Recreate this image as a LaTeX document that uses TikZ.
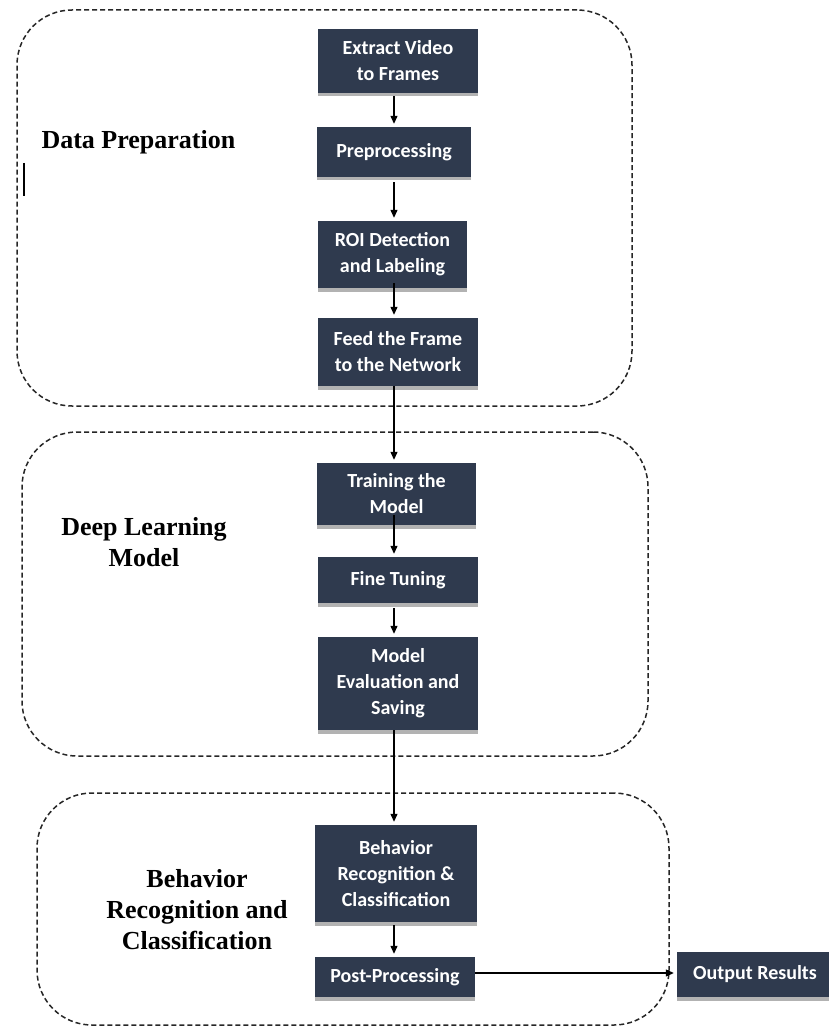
\documentclass[tikz,border=0pt]{standalone}
\usepackage{fontspec}
\setmainfont{Liberation Serif}
\newfontfamily\boxfont{Carlito}
\usetikzlibrary{arrows.meta,shadows,calc}
\definecolor{navy}{RGB}{47,58,78}
\begin{document}
\begin{tikzpicture}[x=1pt,y=-1pt,
  stepbox/.style={fill=navy, text=white, inner sep=2pt, align=center,
    font=\boxfont\bfseries\fontsize{20}{26}\selectfont,
    drop shadow={shadow xshift=0pt, shadow yshift=-3.5pt, fill=black!30, opacity=1}},
  group/.style={draw=black!85, dash pattern=on 5pt off 3pt, line width=1.5pt,
    rounded corners=55pt, inner sep=0pt},
  arr/.style={line width=1.2pt, -{Triangle[length=8pt,width=7pt]}, shorten >=3pt},
  grouplabel/.style={font=\bfseries\fontsize{26}{31}\selectfont, align=center}]
\useasboundingbox (0,0) rectangle (829,1027);
\clip (0,0) rectangle (829,1027);

% groups
\node[group, minimum width=615pt, minimum height=396pt] (g1) at (324.5,208) {};
\node[group, minimum width=626pt, minimum height=324pt] (g2) at (335,594) {};
\node[group, minimum width=632pt, minimum height=232pt] (g3) at (353,909) {};

% group labels
\node[grouplabel, anchor=west] (l1) at (38,142) {Data Preparation};
\node[grouplabel] (l2) at (144,542) {Deep Learning\\Model};
\node[grouplabel] (l3) at (197,910) {Behavior\\Recognition and\\Classification};

% stray mark
\draw[line width=1.4pt] (24,163) coordinate (m1) -- (24,196) coordinate (m2);

% steps
\node[stepbox, minimum width=160pt, minimum height=64pt] (extract) at (398,61) {Extract Video\\to Frames};
\node[stepbox, minimum width=154pt, minimum height=50pt] (prep) at (394,152) {Preprocessing};
\node[stepbox, minimum width=149pt, minimum height=67pt] (roi) at (392.5,254.5) {ROI Detection\\and Labeling};
\node[stepbox, minimum width=160pt, minimum height=68pt] (feed) at (398,352) {Feed the Frame\\to the Network};
\node[stepbox, minimum width=159pt, minimum height=62pt] (train) at (396.5,494) {Training the\\Model};
\node[stepbox, minimum width=160pt, minimum height=46pt] (fine) at (398,580) {Fine Tuning};
\node[stepbox, minimum width=160pt, minimum height=93pt] (eval) at (398,683.5) {Model\\Evaluation and\\Saving};
\node[stepbox, minimum width=162pt, minimum height=97pt] (behav) at (396,873.5) {Behavior\\Recognition \&\\Classification};
\node[stepbox, minimum width=160pt, minimum height=40pt] (post) at (395,977) {Post-Processing};
\node[stepbox, minimum width=156pt, minimum height=45pt] (out) at (755,974.5) {Output Results};

\coordinate (ax) at (394,0);

% arrows
\draw[arr] ([yshift=-3pt]extract.south -| ax) -- (prep.north -| ax);
\draw[arr] ([yshift=-5pt]prep.south -| ax) -- (roi.north -| ax);
\draw[arr] ([yshift=5pt]roi.south -| ax) -- (feed.north -| ax);
\draw[arr] (feed.south -| ax) -- (train.north -| ax);
\draw[arr] ([yshift=10pt]train.south -| ax) -- (fine.north -| ax);
\draw[arr] ([yshift=-5pt]fine.south -| ax) -- (eval.north -| ax);
\draw[arr] (eval.south -| ax) -- (behav.north -| ax);
\draw[arr] ([yshift=-3pt]behav.south -| ax) -- (post.north -| ax);
\draw[arr] ([yshift=4pt]post.east) -- ([yshift=4pt]post.east -| out.west);
\end{tikzpicture}
\end{document}
